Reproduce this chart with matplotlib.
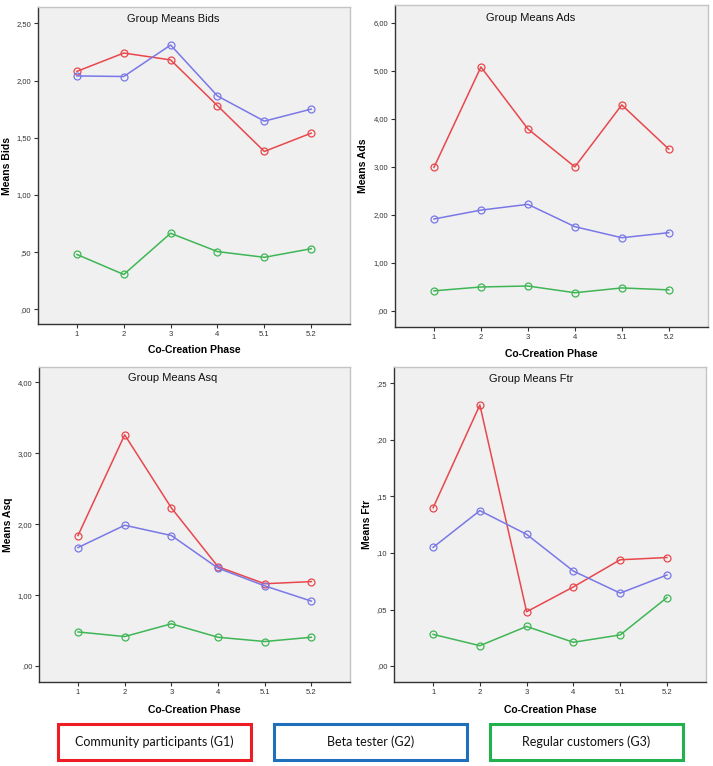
import matplotlib
matplotlib.use("Agg")
import matplotlib.pyplot as plt
from matplotlib.patches import Rectangle

plt.rcParams['font.family'] = ['Liberation Sans', 'DejaVu Sans']

phases = ["1", "2", "3", "4", "5.1", "5.2"]
groups = ["Community participants (G1)", "Beta tester (G2)", "Regular customers (G3)"]

bids_g1 = [2.08, 2.24, 2.18, 1.78, 1.38, 1.54]
bids_g2 = [2.04, 2.035, 2.31, 1.865, 1.645, 1.75]
bids_g3 = [0.48, 0.305, 0.665, 0.505, 0.455, 0.53]

ads_g1 = [2.99, 5.08, 3.79, 3.00, 4.29, 3.37]
ads_g2 = [1.915, 2.10, 2.22, 1.755, 1.525, 1.63]
ads_g3 = [0.42, 0.50, 0.52, 0.38, 0.48, 0.44]

asq_g1 = [1.84, 3.26, 2.23, 1.40, 1.16, 1.19]
asq_g2 = [1.67, 1.985, 1.84, 1.38, 1.13, 0.915]
asq_g3 = [0.48, 0.415, 0.595, 0.405, 0.345, 0.405]

ftr_g1 = [0.140, 0.231, 0.048, 0.070, 0.094, 0.096]
ftr_g2 = [0.105, 0.1375, 0.1165, 0.084, 0.0645, 0.0805]
ftr_g3 = [0.028, 0.018, 0.035, 0.021, 0.0275, 0.0605]

bids_ticks = [0.0, 0.5, 1.0, 1.5, 2.0, 2.5]
bids_ticklabels = [",00", ",50", "1,00", "1,50", "2,00", "2,50"]
ads_ticks = [0, 1, 2, 3, 4, 5, 6]
ads_ticklabels = [",00", "1,00", "2,00", "3,00", "4,00", "5,00", "6,00"]
asq_ticks = [0, 1, 2, 3, 4]
asq_ticklabels = [",00", "1,00", "2,00", "3,00", "4,00"]
ftr_ticks = [0.0, 0.05, 0.10, 0.15, 0.20, 0.25]
ftr_ticklabels = [",00", ",05", ",10", ",15", ",20", ",25"]

line_colors = ["#e8474c", "#7a78e6", "#3fb655"]
box_colors = ["#ee1c24", "#1f6fbd", "#22b14c"]

fig = plt.figure(figsize=(7.13, 7.66), dpi=100)

panels = [
    dict(pos=[0.0533, 0.577, 0.4377, 0.4135], title="Group Means Bids", ylabel="Means Bids",
         data=[bids_g1, bids_g2, bids_g3], ticks=bids_ticks, tl=bids_ticklabels,
         ylim=(-0.128, 2.64), tpos=(0.433, 0.962), ylx=-0.083, xly=-0.066),
    dict(pos=[0.554, 0.5735, 0.4386, 0.42], title="Group Means Ads", ylabel="Means Ads",
         data=[ads_g1, ads_g2, ads_g3], ticks=ads_ticks, tl=ads_ticklabels,
         ylim=(-0.327, 6.37), tpos=(0.435, 0.959), ylx=-0.085, xly=-0.069),
    dict(pos=[0.0551, 0.1093, 0.4359, 0.4116], title="Group Means Asq", ylabel="Means Asq",
         data=[asq_g1, asq_g2, asq_g3], ticks=asq_ticks, tl=asq_ticklabels,
         ylim=(-0.23, 4.217), tpos=(0.43, 0.965), ylx=-0.084, xly=-0.072),
    dict(pos=[0.553, 0.1093, 0.4368, 0.4116], title="Group Means Ftr", ylabel="Means Ftr",
         data=[ftr_g1, ftr_g2, ftr_g3], ticks=ftr_ticks, tl=ftr_ticklabels,
         ylim=(-0.0144, 0.2646), tpos=(0.441, 0.961), ylx=-0.073, xly=-0.072),
]

xs = list(range(1, len(phases) + 1))
for p in panels:
    ax = fig.add_axes(p["pos"])
    ax.set_facecolor("#f0f0f0")
    for series, c in zip(p["data"], line_colors):
        ax.plot(xs, series, color=c, lw=1.1, marker="o", markersize=5,
                markerfacecolor="none", markeredgecolor=c, markeredgewidth=0.9)
    ax.set_xlim(0.17, 6.83)
    ax.set_ylim(*p["ylim"])
    ax.set_xticks(xs)
    ax.set_xticklabels(phases)
    ax.set_yticks(p["ticks"])
    ax.set_yticklabels(p["tl"])
    ax.tick_params(axis="both", labelsize=5.5, length=3, width=0.8, colors="#333333", pad=2)
    for s in ["left", "bottom"]:
        ax.spines[s].set_color("#333333")
        ax.spines[s].set_linewidth(1.0)
    for s in ["top", "right"]:
        ax.spines[s].set_color("#c4c4c4")
        ax.spines[s].set_linewidth(1.0)
    ax.text(p["tpos"][0], p["tpos"][1], p["title"], transform=ax.transAxes,
            ha="center", va="center", fontsize=8, color="#111111")
    ax.set_ylabel(p["ylabel"], fontsize=7.5, fontweight="bold")
    ax.yaxis.set_label_coords(p["ylx"], 0.5)
    ax.set_xlabel("Co-Creation Phase", fontsize=7.5, fontweight="bold")
    ax.xaxis.set_label_coords(0.5, p["xly"])

box_x = [58, 274, 490]
for g, bx, bc in zip(groups, box_x, box_colors):
    x0 = bx / 713
    w = 193 / 713
    y0 = 1 - 760 / 766
    h = 36 / 766
    fig.patches.append(Rectangle((x0, y0), w, h, transform=fig.transFigure,
                                 facecolor="white", edgecolor=bc, lw=2.2))
    fig.text(x0 + w / 2, y0 + h / 2, g, ha="center", va="center", fontsize=9,
             family=["Lato", "DejaVu Sans"], color="#111111")

fig.savefig("out.png", dpi=100)
